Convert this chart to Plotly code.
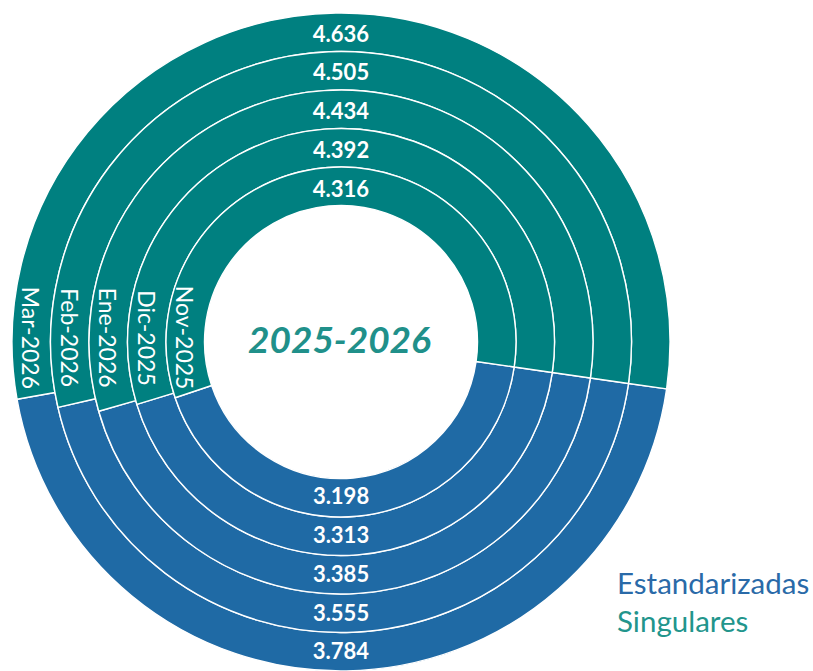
import plotly.graph_objects as go

# rings from inner to outer
months = ["Nov-2025", "Dic-2025", "Ene-2026", "Feb-2026", "Mar-2026"]
estandarizadas = [3198, 3313, 3385, 3555, 3784]
singulares = [4316, 4392, 4434, 4505, 4636]
series_names = ["Estandarizadas", "Singulares"]

BLUE = "#1f6aa5"
TEAL = "#008080"
FONT = "Lato"

W, H = 813, 671
cx, cy = 341, 342          # pixel centre of the rings (from top-left)
r_outer, r_hole = 329, 136.5
ring_w = (r_outer - r_hole) / len(months)

fig = go.Figure()

# draw from the outermost ring inwards
for i in reversed(range(len(months))):
    r_out = r_hole + ring_w * (i + 1)
    r_in = r_out - ring_w
    fig.add_trace(
        go.Pie(
            labels=series_names,
            values=[estandarizadas[i], singulares[i]],
            name=months[i],
            sort=False,
            direction="clockwise",
            rotation=98.2,
            hole=r_in / r_out,
            domain=dict(
                x=[(cx - r_out) / W, (cx + r_out) / W],
                y=[(H - cy - r_out) / H, (H - cy + r_out) / H],
            ),
            marker=dict(colors=[BLUE, TEAL], line=dict(color="white", width=1.4)),
            texttemplate="%{value:,}",
            textposition="inside",
            insidetextorientation="tangential",
            insidetextfont=dict(family=FONT, size=22, color="white", weight="bold"),
            hoverinfo="skip",
            showlegend=False,
        )
    )

    # month name at the left end of each ring
    fig.add_annotation(
        x=(cx - (r_in + ring_w / 2)) / W,
        y=1 - 338 / H,
        xref="paper", yref="paper",
        text=months[i],
        textangle=90,
        showarrow=False,
        xanchor="center", yanchor="middle",
        font=dict(family=FONT, size=23, color="white"),
    )

# centre title
fig.add_annotation(
    x=339 / W, y=1 - 339 / H, xref="paper", yref="paper",
    text="<b><i>2025-2026</i></b>",
    showarrow=False,
    font=dict(family=FONT, size=37, color="#20908a"),
)

# legend as coloured text
fig.add_annotation(
    x=615 / W, y=1 - 582 / H, xref="paper", yref="paper",
    text="Estandarizadas", showarrow=False, xanchor="left", yanchor="middle",
    font=dict(family=FONT, size=29.5, color="#2a6aa8"),
)
fig.add_annotation(
    x=615 / W, y=1 - 620 / H, xref="paper", yref="paper",
    text="Singulares", showarrow=False, xanchor="left", yanchor="middle",
    font=dict(family=FONT, size=29.5, color="#22958c"),
)

fig.update_layout(
    width=W,
    height=H,
    margin=dict(l=0, r=0, t=0, b=0, pad=0),
    paper_bgcolor="white",
    plot_bgcolor="white",
    separators=",.",
)

fig.write_html(
    "out.html",
    config={"displayModeBar": False},
    post_script="document.body.style.margin='0';document.body.style.overflow='hidden';",
)
